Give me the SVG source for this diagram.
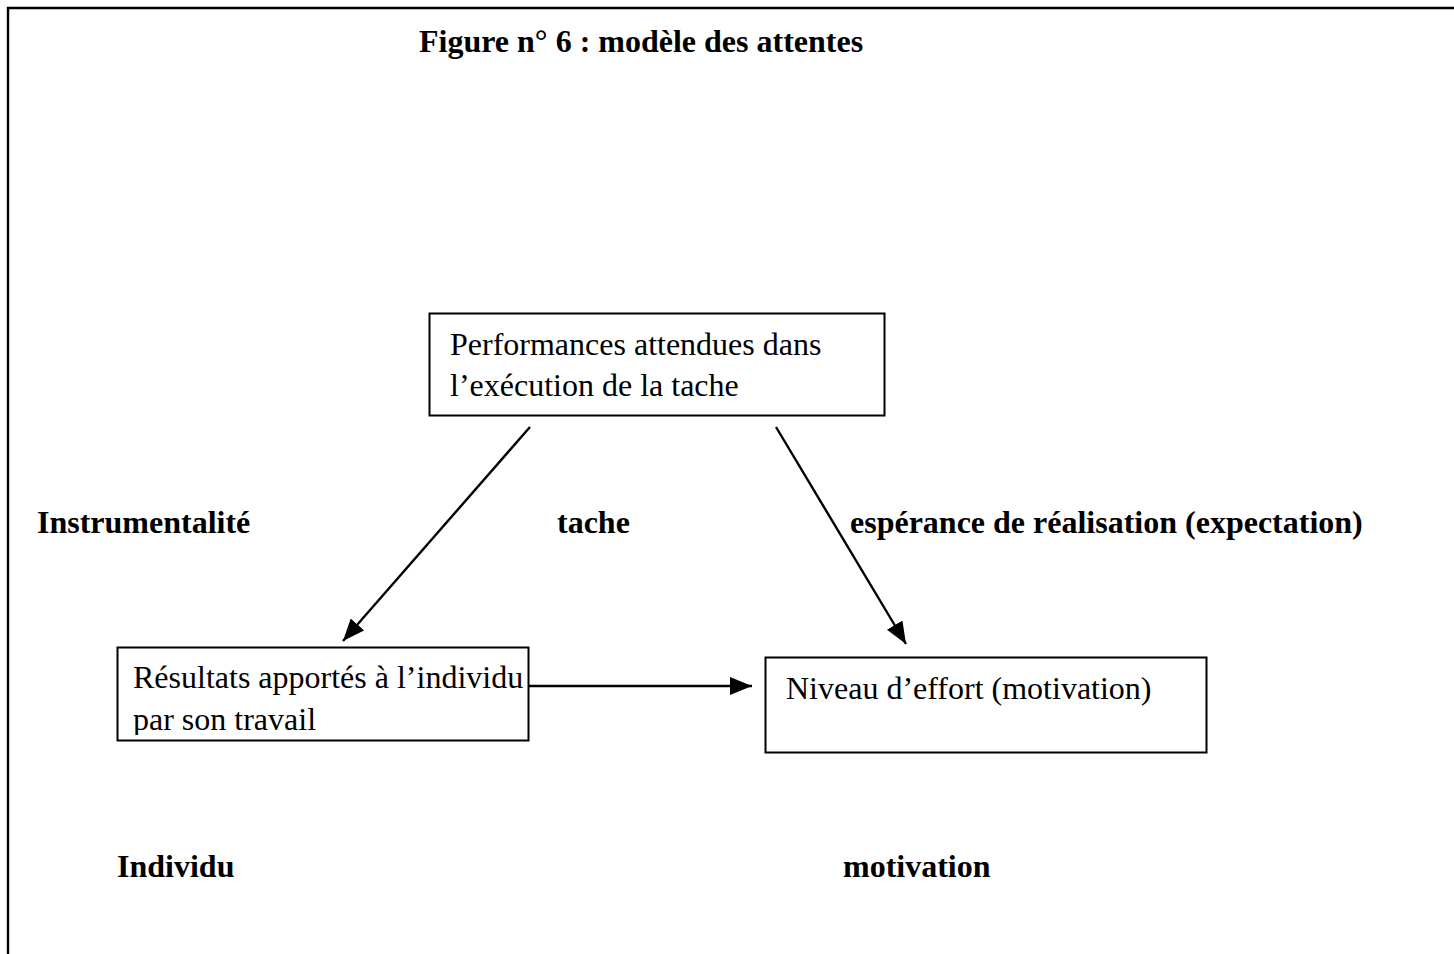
<svg xmlns="http://www.w3.org/2000/svg" width="1454" height="954" viewBox="0 0 1454 954">
  <style>
    .frame { fill: none; stroke: #000; stroke-width: 2.4; }
    .box { fill: #fff; stroke: #000; stroke-width: 2; }
    .txt { font-family: "Liberation Serif", "Times New Roman", serif; font-size: 32px; fill: #000; }
    .bold { font-weight: bold; }
    .edge { stroke: #000; stroke-width: 2.4; fill: none; marker-end: url(#head); }
  </style>
  <defs>
    <marker id="head" markerUnits="userSpaceOnUse" markerWidth="24" markerHeight="18" refX="22" refY="9" orient="auto">
      <path d="M0,0 L22,9 L0,18 Z" fill="#000"/>
    </marker>
    <clipPath id="clip-results">
      <rect x="117" y="647" width="412" height="88"/>
    </clipPath>
  </defs>
  <rect width="1454" height="954" fill="#fff"/>

  <!-- outer frame: top and left edges only -->
  <g id="frame">
    <path class="frame" d="M8,954 L8,8 L1454,8"/>
  </g>

  <text id="title" class="txt bold" x="419" y="52">Figure n° 6 : modèle des attentes</text>

  <g id="connectors">
    <line class="edge" x1="530" y1="427" x2="343" y2="641"/>
    <line class="edge" x1="776" y1="427" x2="906" y2="644"/>
    <line class="edge" x1="529" y1="686" x2="752" y2="686"/>
  </g>

  <g id="node-performances">
    <rect class="box" x="429.5" y="313.5" width="455" height="102"/>
    <text class="txt" x="450" y="355">Performances attendues dans</text>
    <text class="txt" x="450" y="396">l’exécution de la tache</text>
  </g>

  <g id="node-resultats">
    <rect class="box" x="117.5" y="647.5" width="411" height="93"/>
    <g clip-path="url(#clip-results)">
      <text class="txt" x="133" y="688">Résultats apportés à l’individu</text>
      <text class="txt" x="133" y="730">par son travail</text>
    </g>
  </g>

  <g id="node-effort">
    <rect class="box" x="765.5" y="657.5" width="441" height="95"/>
    <text class="txt" x="786" y="699">Niveau d’effort (motivation)</text>
  </g>

  <g id="labels">
    <text class="txt bold" x="37" y="533">Instrumentalité</text>
    <text class="txt bold" x="557" y="533">tache</text>
    <text class="txt bold" x="850" y="533">espérance de réalisation (expectation)</text>
    <text class="txt bold" x="117" y="877">Individu</text>
    <text class="txt bold" x="843" y="877">motivation</text>
  </g>
</svg>
